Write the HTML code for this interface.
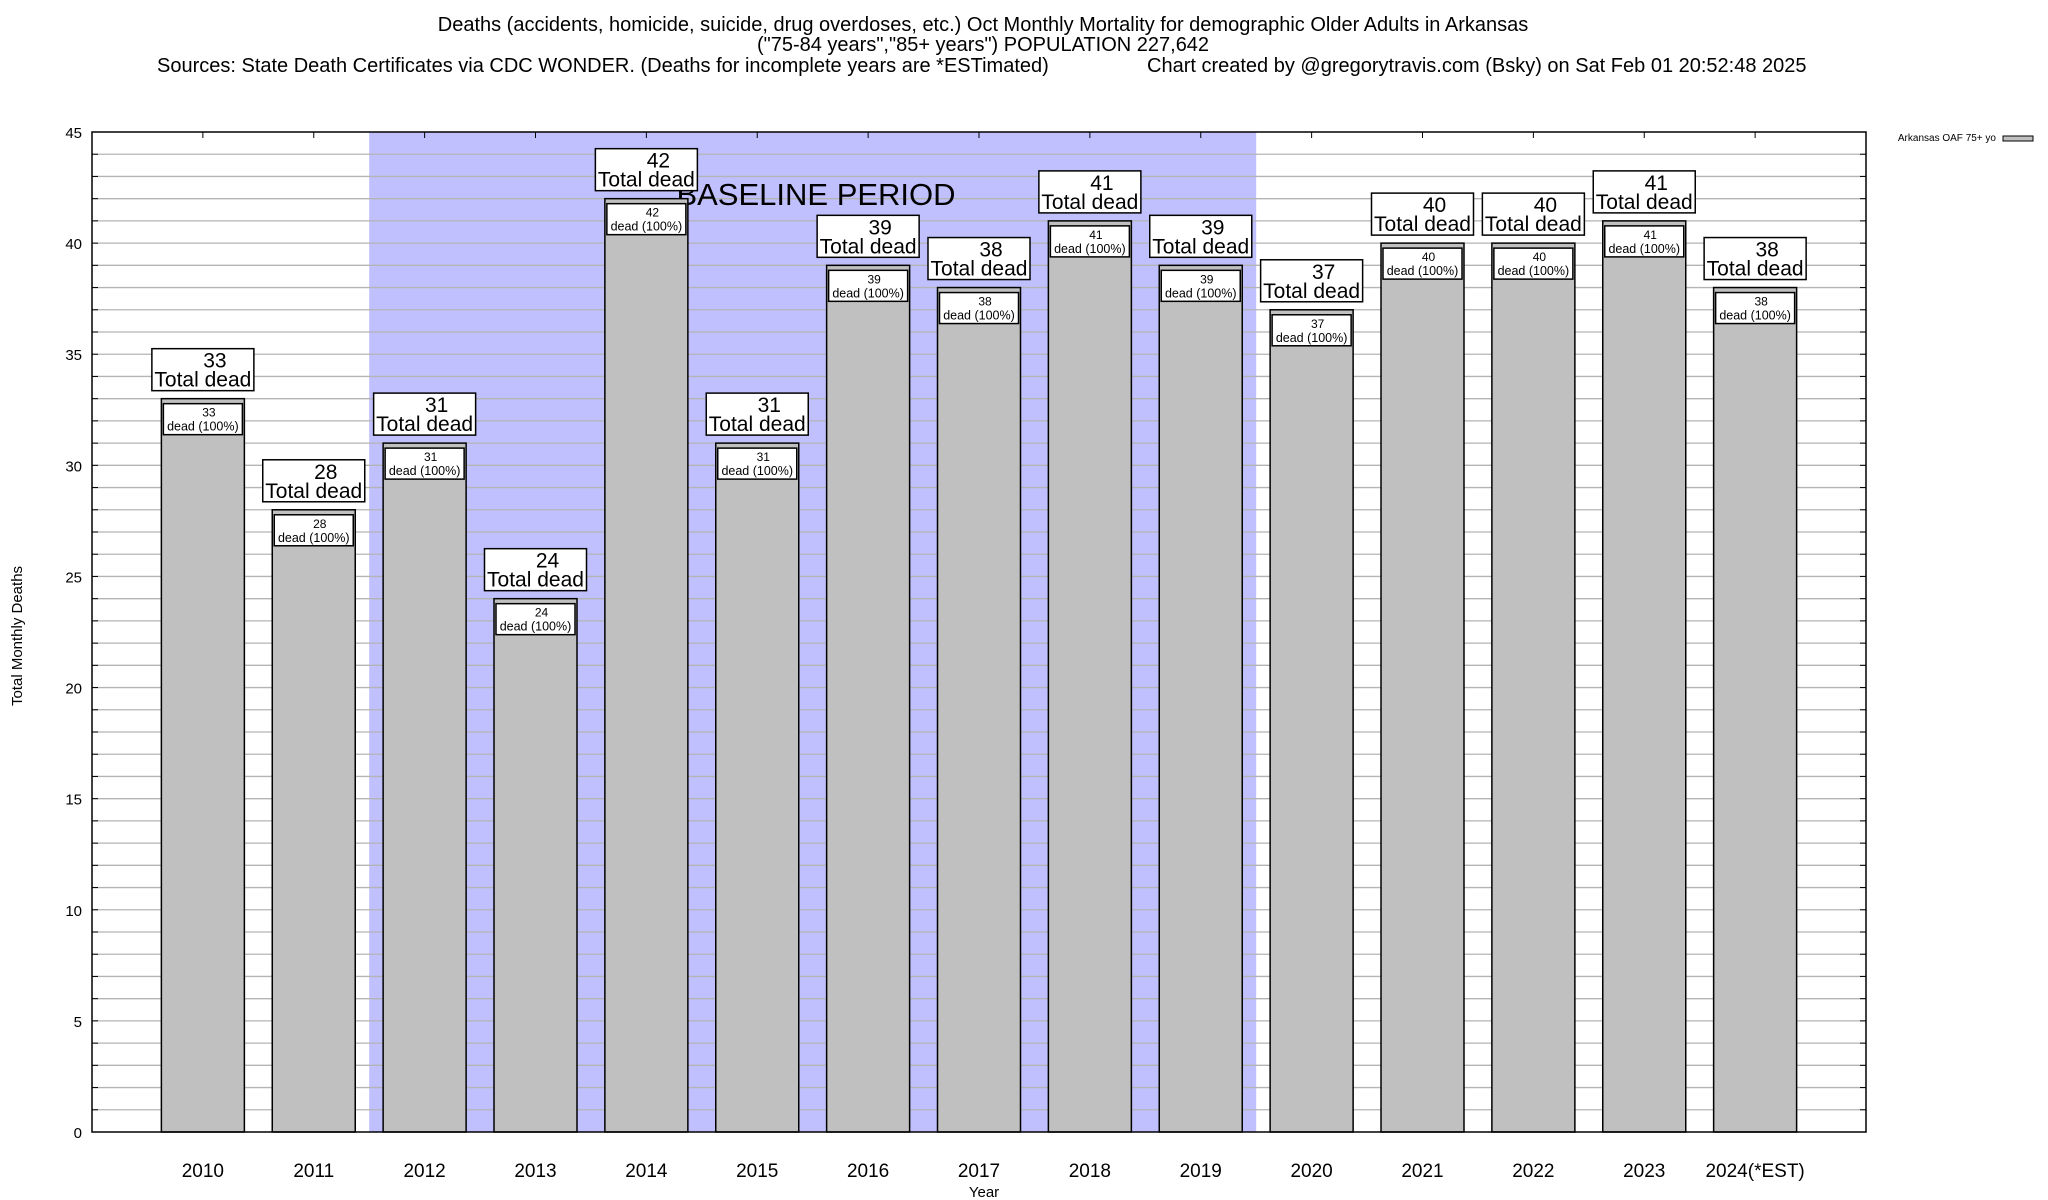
<!DOCTYPE html>
<html><head><meta charset="utf-8">
<style>
html,body{margin:0;padding:0;background:#fff;}
svg{display:block;font-family:"Liberation Sans",Arial,sans-serif;}
</style></head>
<body>
<svg id="chart" width="2048" height="1200" viewBox="0 0 2048 1200" xmlns="http://www.w3.org/2000/svg">
<g font-size="20" fill="#000">
<text x="983" y="31" text-anchor="middle">Deaths (accidents, homicide, suicide, drug overdoses, etc.) Oct Monthly Mortality for demographic Older Adults in Arkansas</text>
<text x="983" y="51" text-anchor="middle">("75-84 years","85+ years") POPULATION 227,642</text>
<text x="157" y="72">Sources: State Death Certificates via CDC WONDER. (Deaths for incomplete years are *ESTimated)</text>
<text x="1147" y="72">Chart created by @gregorytravis.com (Bsky) on Sat Feb 01 20:52:48 2025</text>
</g>
<g id="plot"></g>
<text x="22" y="636" font-size="15" text-anchor="middle" transform="rotate(-90 22 636)">Total Monthly Deaths</text>
<text x="984" y="1197" font-size="15" text-anchor="middle">Year</text>
<g>
<text x="1996" y="141" font-size="10" text-anchor="end">Arkansas OAF 75+ yo</text>
<rect x="2003" y="136" width="30" height="5" fill="#c0c0c0" stroke="#000" stroke-width="1"/>
</g>
</svg>
<script>
const categories = ["2010","2011","2012","2013","2014","2015","2016","2017","2018","2019","2020","2021","2022","2023","2024(*EST)"];
const deaths = [33,28,31,24,42,31,39,38,41,39,37,40,40,41,38];
const yTicks = [0,5,10,15,20,25,30,35,40,45];
const baselineStart = 2; // index of 2012
const baselineEnd = 9;   // index of 2019

const NS = "http://www.w3.org/2000/svg";
const L = 92, R = 1866, T = 132, B = 1132, YMAX = 45;
const slot = (R - L) / (categories.length + 1);
const xC = i => L + slot * (i + 1);
const yS = v => B - (v / YMAX) * (B - T);
const barW = 83;
const plot = document.getElementById("plot");
function mk(tag, attrs, parent, text) {
  const e = document.createElementNS(NS, tag);
  for (const k in attrs) e.setAttribute(k, attrs[k]);
  if (text !== undefined) e.textContent = text;
  (parent || plot).appendChild(e);
  return e;
}
const band = mk("rect", {x: xC(baselineStart) - slot / 2, y: T, width: (baselineEnd - baselineStart + 1) * slot, height: B - T, fill: "#c0c0ff"});


for (let v = 1; v < YMAX; v++) {
  const g = mk("line", {x1: L, x2: R, y1: yS(v), y2: yS(v), stroke: "#b4b4b4", "stroke-width": 1.3});
  
  
  const tl = mk("line", {x1: L, x2: L + 6, y1: yS(v), y2: yS(v), stroke: "#000", "stroke-width": 1});
  
  
  const tr = mk("line", {x1: R - 6, x2: R, y1: yS(v), y2: yS(v), stroke: "#000", "stroke-width": 1});
  
  
}
yTicks.forEach(v => {
  const t = mk("text", {x: 82, y: yS(v) + 6, "font-size": 15, "text-anchor": "end"}, plot, String(v));
  
  
});
const bl = mk("text", {x: 816, y: 205, "font-size": 31, "text-anchor": "middle"}, plot, "BASELINE PERIOD");


categories.forEach((c, i) => {
  const cx = xC(i), v = deaths[i], top = yS(v);
  const tk = mk("line", {x1: cx, x2: cx, y1: T, y2: T + 6, stroke: "#000", "stroke-width": 1});
  
  
  const bar = mk("rect", {x: cx - barW / 2, y: top, width: barW, height: B - top, fill: "#c0c0c0", stroke: "#000", "stroke-width": 1.5});
  
  
  const ib = mk("rect", {x: cx - barW / 2 + 2, y: top + 5, width: barW - 4, height: 31, fill: "#fff", stroke: "#000", "stroke-width": 1.5});
  
  
  const it1 = mk("text", {x: cx + 6, y: top + 18, "font-size": 12, "text-anchor": "middle"}, plot, String(v));
  
  
  const it2 = mk("text", {x: cx, y: top + 32, "font-size": 12.5, "text-anchor": "middle"}, plot, "dead (100%)");
  
  
  const ob = mk("rect", {x: cx - 51, y: top - 50, width: 102, height: 42, fill: "#fff", stroke: "#000", "stroke-width": 1.5});
  
  
  const o1 = mk("text", {x: cx + 12, y: top - 31, "font-size": 21, "text-anchor": "middle"}, plot, String(v));
  
  
  const o2 = mk("text", {x: cx, y: top - 12, "font-size": 21, "text-anchor": "middle"}, plot, "Total dead");
  
  
  const xl = mk("text", {x: cx, y: 1177, "font-size": 19, "text-anchor": "middle"}, plot, c);
  
  
});
const frame = mk("rect", {x: L, y: T, width: R - L, height: B - T, fill: "none", stroke: "#000", "stroke-width": 1.5});


</script>
</body></html>
